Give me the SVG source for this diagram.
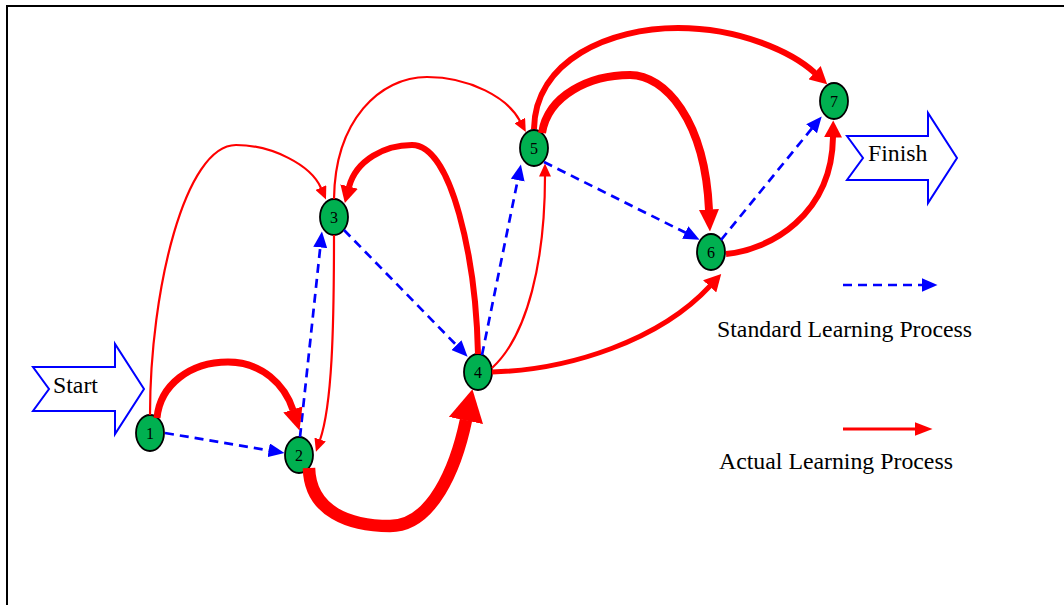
<svg xmlns="http://www.w3.org/2000/svg" width="1064" height="605" viewBox="0 0 1064 605">
<style>
.node ellipse{fill:#00B050;stroke:#000;stroke-width:1.8}
.node text{font-family:"Liberation Serif","Times New Roman",serif;font-size:16px;text-anchor:middle;fill:#000}
.lbl{font-family:"Liberation Serif","Times New Roman",serif;font-size:23.8px;fill:#000}
.std{fill:none;stroke:#0000FF;stroke-width:2.7;stroke-dasharray:9,6}
.act{fill:none;stroke:#FF0000}
.big{fill:#fff;stroke:#0000FF;stroke-width:2}
</style>
<defs>
<marker id="mBlue" markerUnits="userSpaceOnUse" markerWidth="16" markerHeight="14" viewBox="0 0 16 14" refX="0.5" refY="7" orient="auto"><path d="M0,0 L16,7 L0,14 z" fill="#0000FF"/></marker>
<marker id="mThin" markerUnits="userSpaceOnUse" markerWidth="13" markerHeight="12" viewBox="0 0 13 12" refX="0.5" refY="6" orient="auto"><path d="M0,0 L13,6 L0,12 z" fill="#FF0000"/></marker>
<marker id="mMed" markerUnits="userSpaceOnUse" markerWidth="17" markerHeight="18" viewBox="0 0 17 18" refX="0.5" refY="9" orient="auto"><path d="M0,0 L17,9 L0,18 z" fill="#FF0000"/></marker>
<marker id="mLarge" markerUnits="userSpaceOnUse" markerWidth="22" markerHeight="20" viewBox="0 0 22 20" refX="0.5" refY="10" orient="auto"><path d="M0,0 L22,10 L0,20 z" fill="#FF0000"/></marker>
<marker id="mHuge" markerUnits="userSpaceOnUse" markerWidth="32" markerHeight="35" viewBox="0 0 32 35" refX="0.5" refY="17.5" orient="auto"><path d="M0,0 L32,17.5 L0,35 z" fill="#FF0000"/></marker>
<marker id="mLegR" markerUnits="userSpaceOnUse" markerWidth="18" markerHeight="14" viewBox="0 0 18 14" refX="0.5" refY="7" orient="auto"><path d="M0,0 L18,7 L0,14 z" fill="#FF0000"/></marker>
</defs>
<path d="M7,605 V6 H1064" fill="none" stroke="#000" stroke-width="2"/>
<g id="start">
<polygon class="big" points="33,367 115,367 115,344 144,389 115,434 115,411 33,411 49,389"/>
<text class="lbl" x="53" y="393">Start</text>
</g>
<g id="finish">
<polygon class="big" points="847,136 928,136 928,113 957,158 928,203 928,180 847,180 863,158"/>
<text class="lbl" x="868" y="161">Finish</text>
</g>
<g id="n1" class="node"><ellipse cx="150" cy="433" rx="14" ry="18"/><text x="150" y="438.5">1</text></g>
<g id="n2" class="node"><ellipse cx="299" cy="455" rx="14" ry="18"/><text x="299" y="460.5">2</text></g>
<g id="n3" class="node"><ellipse cx="334" cy="217" rx="14" ry="18"/><text x="334" y="222.5">3</text></g>
<g id="n4" class="node"><ellipse cx="478" cy="372" rx="14" ry="18"/><text x="478" y="377.5">4</text></g>
<g id="n5" class="node"><ellipse cx="534" cy="148" rx="14" ry="18"/><text x="534" y="153.5">5</text></g>
<g id="n6" class="node"><ellipse cx="711" cy="252" rx="14" ry="18"/><text x="711" y="257.5">6</text></g>
<g id="n7" class="node"><ellipse cx="834" cy="101" rx="14" ry="18"/><text x="834" y="106.5">7</text></g>
<g id="connectors">
<path class="std" d="M165,433 L269.2,450.4" marker-end="url(#mBlue)"/>
<path class="std" d="M300,437 L320.3,246.9" marker-end="url(#mBlue)"/>
<path class="std" d="M344,230 L456.8,345.6" marker-end="url(#mBlue)"/>
<path class="std" d="M482,355 L517.8,179.7" marker-end="url(#mBlue)"/>
<path class="std" d="M544,162 L685.7,232.8" marker-end="url(#mBlue)"/>
<path class="std" d="M721,240 L811.9,128.4" marker-end="url(#mBlue)"/>
<path class="act" stroke-width="2.2" d="M150,415 C150,290 185,145 236,145 C272,145 311,165 321,188" marker-end="url(#mThin)"/>
<path class="act" stroke-width="2.2" d="M334,235 C334,330 332,405 320,440" marker-end="url(#mThin)"/>
<path class="act" stroke-width="2.2" d="M334,199 C335,120 380,77 427,77 C470,77 508,98 520,121" marker-end="url(#mThin)"/>
<path class="act" stroke-width="2.2" d="M492,368 C528,335 545,260 545,176" marker-end="url(#mThin)"/>
<path class="act" stroke-width="6" d="M478,354 C476,260 452,145 412,145 C385,145 356,160 349,187" marker-end="url(#mMed)"/>
<path class="act" stroke-width="7" d="M157,418 C160,385 190,362 228,362 C262,362 285,385 293,410" marker-end="url(#mLarge)"/>
<path class="act" stroke-width="12.5" d="M309,468 C310,512 350,526 390,526 C432,526 456,468 466,420" marker-end="url(#mHuge)"/>
<path class="act" stroke-width="5" d="M492,372 C570,370 660,340 710,286" marker-end="url(#mMed)"/>
<path class="act" stroke-width="8" d="M542,133 C548,95 590,75 630,75 C665,75 705,120 709,210" marker-end="url(#mLarge)"/>
<path class="act" stroke-width="6" d="M534,129 C535,60 610,28 678,28 C740,28 792,52 815,73" marker-end="url(#mMed)"/>
<path class="act" stroke-width="6" d="M726,254 C770,250 832,215 833,137" marker-end="url(#mMed)"/>
</g>
<g id="legend">
<path class="std" d="M843,285 H922" marker-end="url(#mBlue)"/>
<text class="lbl" x="717" y="337">Standard Learning Process</text>
<path class="act" stroke-width="3" d="M843,429 H915" marker-end="url(#mLegR)"/>
<text class="lbl" x="719" y="469">Actual Learning Process</text>
</g>
</svg>
